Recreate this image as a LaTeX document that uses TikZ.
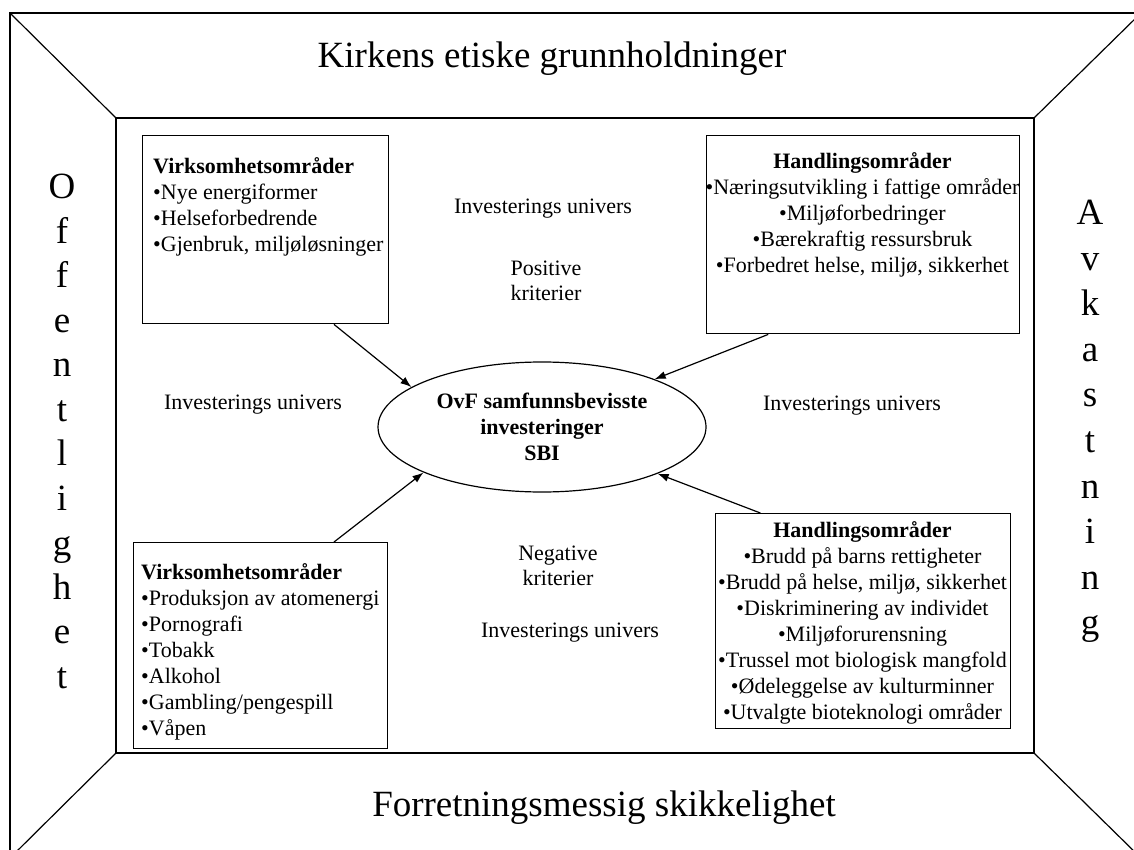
\documentclass[tikz,border=0pt]{standalone}
\usepackage{fontspec}
\setmainfont{Liberation Serif}
\usetikzlibrary{calc,arrows.meta,shapes.geometric}
\newcommand\clines[1]{\vtop{\halign{\hfil##\hfil\cr#1\crcr}}}
\newcommand\llines[1]{\vtop{\halign{##\hfil\cr#1\crcr}}}
\newcommand\smallfnt{\fontsize{22}{26}\selectfont\lineskiplimit=-100pt\relax}
\newcommand\lblfnt{\fontsize{22}{25}\selectfont\lineskiplimit=-100pt\relax}
\newcommand\bigfntL{\fontsize{37}{44.5}\selectfont\lineskiplimit=-100pt\relax}
\newcommand\bigfntR{\fontsize{37}{45.5}\selectfont\lineskiplimit=-100pt\relax}
\begin{document}
\begin{tikzpicture}[x=1pt,y=-1pt,
  lbl/.style={inner sep=0pt, font=\lblfnt},
  boxtext/.style={inner sep=0pt, font=\smallfnt},
  frm/.style={draw, line width=1.4pt, inner sep=0pt},
  bigL/.style={inner sep=0pt, font=\bigfntL},
  bigR/.style={inner sep=0pt, font=\bigfntR},
  frameline/.style={line width=1.4pt},
  diag/.style={line width=1.2pt},
  conn/.style={line width=1.2pt, -{Latex[length=11pt,width=8pt]}}]
\useasboundingbox (0,0) rectangle (1134,850);
\clip (0,0) rectangle (1134,850);
% frame
\coordinate (o1) at (10,13);
\coordinate (o2) at (1141,13);
\coordinate (o3) at (1141,858);
\coordinate (o4) at (10,858);
\coordinate (i1) at (116,118);
\coordinate (i2) at (1034,118);
\coordinate (i3) at (1034,753);
\coordinate (i4) at (116,753);
\draw[frameline] (o1) rectangle (o3);
\draw[frameline] (i1) rectangle (i3);
\draw[diag] (o1) -- (i1);
\draw[diag] (o2) -- (i2);
\draw[diag] (o3) -- (i3);
\draw[diag] (o4) -- (i4);
% side texts
\node[bigL, anchor=base] (toptitle) at (552,68) {Kirkens etiske grunnholdninger};
\node[bigL, anchor=base] (bottitle) at (604,816) {Forretningsmessig skikkelighet};
\node[bigL, anchor=base] (lefttitle) at (62,199) {\clines{O\cr f\cr f\cr e\cr n\cr t\cr l\cr i\cr g\cr h\cr e\cr t}};
\node[bigR, anchor=base] (righttitle) at (1090,225) {\clines{A\cr v\cr k\cr a\cr s\cr t\cr n\cr i\cr n\cr g}};
% boxes
\node[frm, anchor=north west, minimum width=246pt, minimum height=188pt] (tlbox) at (142,135) {};
\node[boxtext, anchor=base west] (tltext) at (153,174) {\llines{\textbf{Virksomhetsområder}\cr •Nye energiformer\cr •Helseforbedrende\cr •Gjenbruk, miljøløsninger}};
\node[frm, anchor=north west, minimum width=313pt, minimum height=198pt] (trbox) at (706,135) {};
\node[boxtext, anchor=base] (trtext) at (862.5,169) {\clines{\textbf{Handlingsområder}\cr •Næringsutvikling i fattige områder\cr •Miljøforbedringer\cr •Bærekraftig ressursbruk\cr •Forbedret helse, miljø, sikkerhet}};
\node[frm, anchor=north west, minimum width=254pt, minimum height=206pt] (blbox) at (133,542) {};
\node[boxtext, anchor=base west] (bltext) at (141,579) {\llines{\textbf{Virksomhetsområder}\cr •Produksjon av atomenergi\cr •Pornografi\cr •Tobakk\cr •Alkohol\cr •Gambling/pengespill\cr •Våpen}};
\node[frm, anchor=north west, minimum width=295pt, minimum height=215pt] (brbox) at (715,513) {};
\node[boxtext, anchor=base] (brtext) at (862.5,537) {\clines{\textbf{Handlingsområder}\cr •Brudd på barns rettigheter\cr •Brudd på helse, miljø, sikkerhet\cr •Diskriminering av individet\cr •Miljøforurensning\cr •Trussel mot biologisk mangfold\cr •Ødeleggelse av kulturminner\cr •Utvalgte bioteknologi områder}};
% ellipse
\node[draw, ellipse, line width=1.2pt, minimum width=328pt, minimum height=130pt, inner sep=0pt, font=\smallfnt] (ell) at (542,427) {\clines{\textbf{OvF samfunnsbevisste}\cr \textbf{investeringer}\cr \textbf{SBI}}};
% labels
\node[lbl, anchor=base] (iutop) at (543,214) {Investerings univers};
\node[lbl, anchor=base] (pos) at (546,275) {\clines{Positive\cr kriterier}};
\node[lbl, anchor=base] (iuleft) at (253,409) {Investerings univers};
\node[lbl, anchor=base] (iuright) at (852,410) {Investerings univers};
\node[lbl, anchor=base] (neg) at (558,560) {\clines{Negative\cr kriterier}};
\node[lbl, anchor=base] (iubot) at (570,637) {Investerings univers};
% connectors
\draw[conn] ($(tlbox.south west)!0.776!(tlbox.south east)$) -- (ell.163);
\draw[conn] ($(trbox.south west)!0.198!(trbox.south east)$) -- (ell.23);
\draw[conn] ($(blbox.north west)!0.787!(blbox.north east)$) -- (ell.201);
\draw[conn] ($(brbox.north west)!0.153!(brbox.north east)$) -- (ell.-22);
\end{tikzpicture}
\end{document}
